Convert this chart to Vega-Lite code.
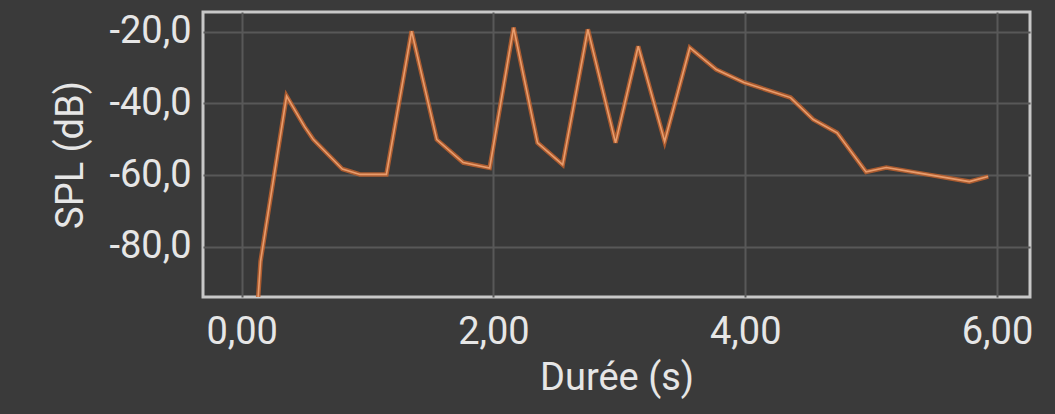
{
  "$schema": "https://vega.github.io/schema/vega-lite/v6.json",
  "width": 827,
  "height": 285,
  "autosize": {"type": "none"},
  "padding": {"left": 203, "top": 12, "right": 25, "bottom": 117},
  "background": "#3a3a3a",
  "config": {
    "locale": {"number": {"decimal": ",", "thousands": " ", "grouping": [3], "currency": ["", " €"], "minus": "-"}},
    "view": {"fill": "#383838", "stroke": "#c8c8c8", "strokeWidth": 3},
    "font": "Roboto",
    "axis": {
      "labelFont": "Roboto", "titleFont": "Roboto",
      "labelFontSize": 38, "titleFontSize": 38,
      "labelColor": "#e6e6e6", "titleColor": "#e6e6e6",
      "labelFontWeight": "normal", "titleFontWeight": "normal",
      "gridColor": "#585858", "gridWidth": 2,
      "ticks": false, "domain": false
    }
  },
  "data": {"values": [
    {"t": 0.12, "spl": -100},
    {"t": 0.15, "spl": -84},
    {"t": 0.357, "spl": -38},
    {"t": 0.50, "spl": -46.5},
    {"t": 0.57, "spl": -50.1},
    {"t": 0.80, "spl": -58.3},
    {"t": 0.94, "spl": -59.8},
    {"t": 1.15, "spl": -59.8},
    {"t": 1.35, "spl": -19.9},
    {"t": 1.55, "spl": -50.1},
    {"t": 1.76, "spl": -56.5},
    {"t": 1.97, "spl": -58},
    {"t": 2.16, "spl": -18.9},
    {"t": 2.35, "spl": -51},
    {"t": 2.55, "spl": -57.1},
    {"t": 2.75, "spl": -19.4},
    {"t": 2.97, "spl": -51},
    {"t": 3.15, "spl": -24.1},
    {"t": 3.36, "spl": -50.6},
    {"t": 3.56, "spl": -24.5},
    {"t": 3.77, "spl": -30.6},
    {"t": 3.99, "spl": -34.2},
    {"t": 4.36, "spl": -38.4},
    {"t": 4.54, "spl": -44.5},
    {"t": 4.73, "spl": -48.2},
    {"t": 4.96, "spl": -59.1},
    {"t": 5.12, "spl": -57.9},
    {"t": 5.36, "spl": -59.3},
    {"t": 5.78, "spl": -61.8},
    {"t": 5.93, "spl": -60.4}
  ]},
  "encoding": {
    "x": {"field": "t", "type": "quantitative",
      "scale": {"domain": [-0.307, 6.262], "nice": false, "zero": false},
      "axis": {"title": "Durée (s)", "values": [0, 2, 4, 6], "format": ".2f", "labelPadding": 16, "titlePadding": 8, "labelOverlap": false, "labelFlush": false}},
    "y": {"field": "spl", "type": "quantitative",
      "scale": {"domain": [-93.95, -14.56], "nice": false, "zero": false},
      "axis": {"title": "SPL (dB)", "values": [-80, -60, -40, -20], "format": ".1f", "labelPadding": 12, "titlePadding": 18, "labelOverlap": false, "labelFlush": false}}
  },
  "layer": [
    {"mark": {"type": "line", "clip": true, "color": "#c0622e", "strokeWidth": 4.5, "opacity": 0.85}},
    {"mark": {"type": "line", "clip": true, "color": "#e89c6c", "strokeWidth": 1.6}}
  ]
}
